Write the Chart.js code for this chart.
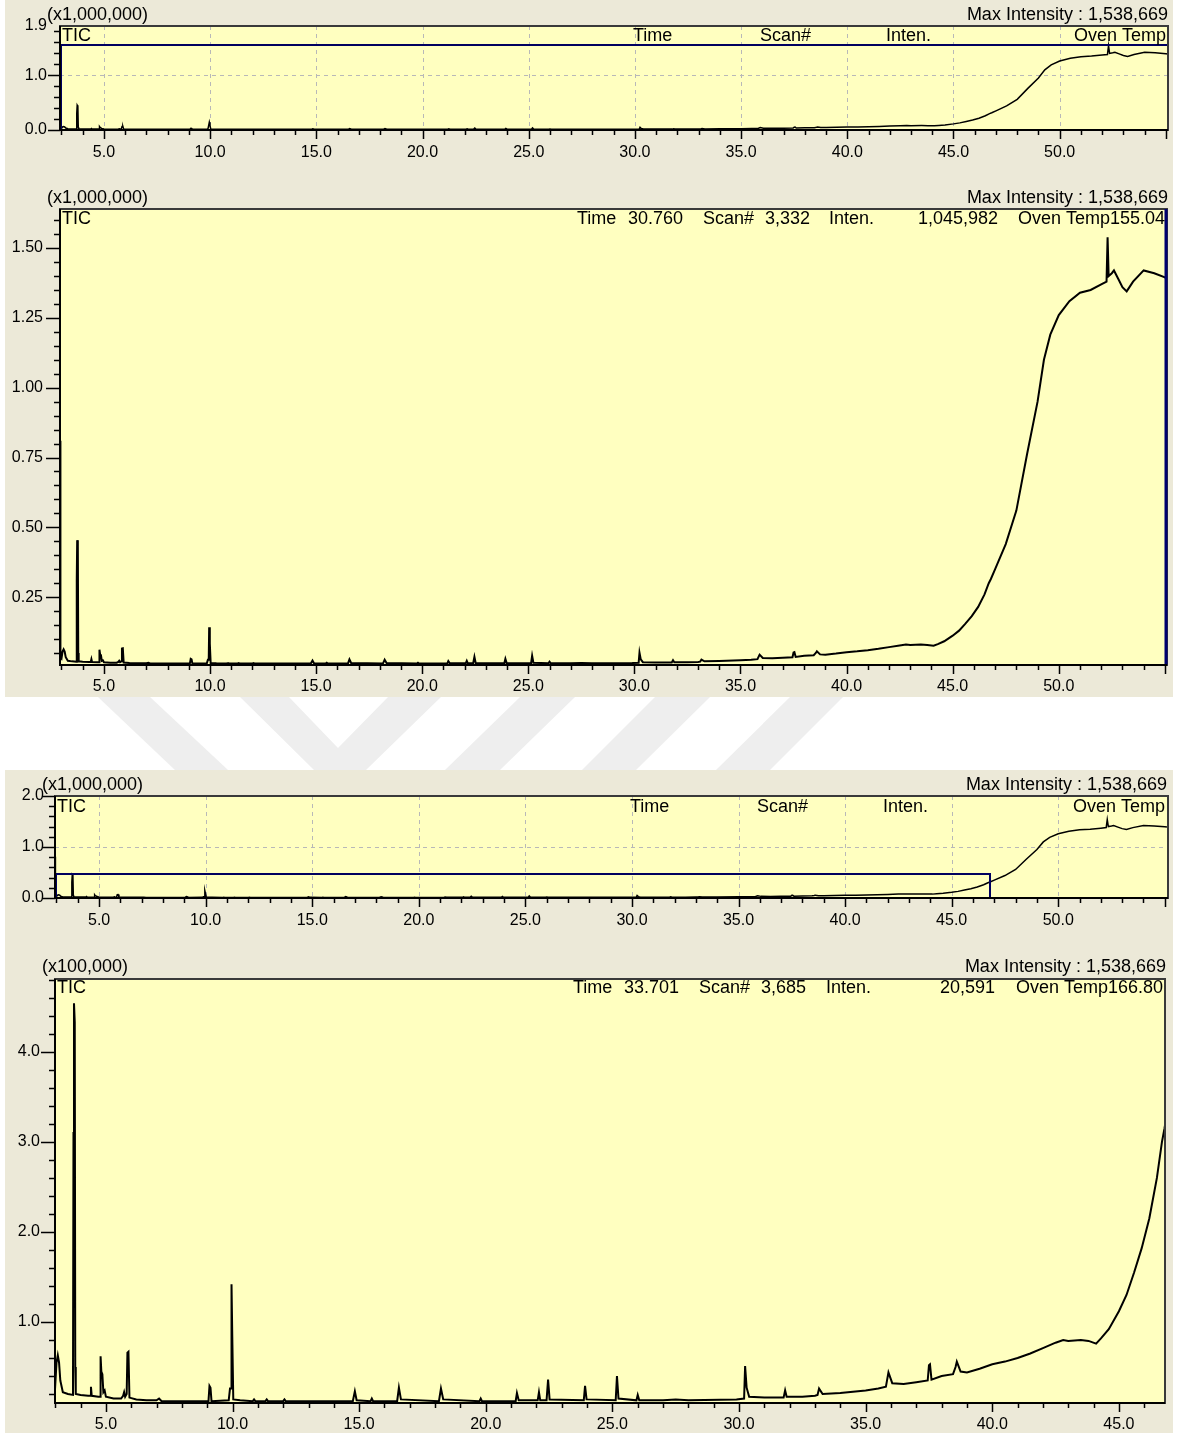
<!DOCTYPE html>
<html>
<head>
<meta charset="utf-8">
<script src="https://cdn.jsdelivr.net/npm/chart.js@4.4.1/dist/chart.umd.min.js"></script>
<style>
  html, body { margin: 0; padding: 0; background: #fff; }
  body { width: 1180px; height: 1433px; position: relative; overflow: hidden; }
  .panel { position: absolute; left: 5px; width: 1168px; background: #ECE9D8; }
  canvas { position: absolute; left: 5px; }
  #wm { position: absolute; left: 0; top: 0; }
</style>
</head>
<body>
<svg id="wm" width="1180" height="1433">
  <g fill="#EEEEEE">
    <polygon points="98,697 150,697 228,770 175,770"/>
    <polygon points="240,697 289,697 338,748 388,697 441,697 366,770 314,770"/>
    <polygon points="520,697 575,697 500,770 445,770"/>
    <polygon points="655,697 710,697 636,770 582,770"/>
    <polygon points="790,697 843,697 770,770 716,770"/>
  </g>
</svg>
<div class="panel" style="top:0;height:697px"></div>
<div class="panel" style="top:770px;height:663px"></div>
<canvas id="ov1" width="1168" height="165" style="top:0px"></canvas>
<canvas id="main1" width="1168" height="532" style="top:165px"></canvas>
<canvas id="ov2" width="1168" height="165" style="top:770px"></canvas>
<canvas id="main2" width="1168" height="498" style="top:935px"></canvas>
<script>
// retention time (min) and TIC intensity (x100,000 counts)
const rtMin = [
  2.93, 2.95, 3.00, 3.05, 3.10, 3.15, 3.20, 3.30, 3.50, 3.70, 3.72, 3.74, 3.77, 3.79, 3.81,
  4.00, 4.30, 4.38, 4.41, 4.44, 4.70, 4.77, 4.79, 4.82, 4.86, 4.90, 4.95, 5.00,
  5.30, 5.60, 5.68, 5.72, 5.76, 5.82, 5.85, 5.89, 5.93, 6.20, 6.60, 7.00, 7.10, 7.20, 8.00,
  9.05, 9.09, 9.13, 9.17, 9.85, 9.90, 9.94, 9.96, 9.99, 10.03, 10.30,
  10.80, 10.85, 10.90, 11.30, 11.35, 11.40, 12.00, 12.05, 12.10, 13.00,
  14.75, 14.83, 14.90, 15.45, 15.50, 15.55, 16.50, 16.57, 16.65, 18.15, 18.23, 18.32,
  19.75, 19.80, 19.85, 21.18, 21.23, 21.30, 22.05, 22.10, 22.15, 22.40, 22.46, 22.52,
  23.87, 23.92, 23.98, 25.13, 25.18, 25.24, 25.95, 26.00, 26.06,
  27.00, 27.50, 28.00, 29.90, 30.20, 30.24, 30.30, 30.40, 31.00, 31.76, 31.82, 31.88,
  32.50, 33.00, 33.10, 33.16, 33.30, 34.00, 35.00, 35.50, 35.80, 35.90, 36.05, 36.50,
  37.00, 37.45, 37.50, 37.54, 37.60, 38.00, 38.45, 38.55, 38.60, 38.75,
  39.00, 39.50, 40.00, 40.50, 41.00, 41.50, 42.00, 42.50, 42.80, 43.00, 43.50, 43.80,
  44.10, 44.30, 44.60, 45.00, 45.30, 45.60, 45.90, 46.20, 46.50, 46.70, 46.80,
  47.00, 47.50, 48.00, 48.50, 49.00, 49.30, 49.60, 50.00, 50.50, 51.00, 51.50, 52.00,
  52.25, 52.30, 52.35, 52.50, 52.60, 52.80, 53.00, 53.20, 53.50, 54.00, 54.50, 55.00, 55.10
];
const ticE5 = [
  8.10, 0.35, 0.30, 0.55, 0.63, 0.55, 0.35, 0.22, 0.20, 0.19, 3.10, 4.54, 4.33, 0.50, 0.20,
  0.19, 0.18, 0.18, 0.28, 0.18, 0.17, 0.17, 0.62, 0.45, 0.42, 0.22, 0.24, 0.17,
  0.15, 0.15, 0.18, 0.22, 0.17, 0.20, 0.66, 0.67, 0.16, 0.14, 0.13, 0.13, 0.15, 0.12, 0.12,
  0.12, 0.29, 0.27, 0.12, 0.13, 0.26, 0.26, 1.42, 0.84, 0.14, 0.13,
  0.12, 0.14, 0.12, 0.12, 0.14, 0.12, 0.12, 0.14, 0.12, 0.12,
  0.12, 0.23, 0.13, 0.12, 0.15, 0.12, 0.12, 0.27, 0.14, 0.12, 0.26, 0.14,
  0.12, 0.15, 0.12, 0.12, 0.21, 0.13, 0.13, 0.22, 0.13, 0.13, 0.36, 0.14,
  0.13, 0.29, 0.14, 0.13, 0.40, 0.15, 0.13, 0.19, 0.13,
  0.13, 0.14, 0.13, 0.14, 0.15, 0.51, 0.27, 0.17, 0.16, 0.16, 0.24, 0.17,
  0.17, 0.18, 0.19, 0.26, 0.20, 0.21, 0.24, 0.26, 0.28, 0.44, 0.32, 0.31,
  0.33, 0.35, 0.52, 0.53, 0.36, 0.40, 0.42, 0.50, 0.56, 0.45,
  0.44, 0.48, 0.53, 0.56, 0.60, 0.65, 0.71, 0.77, 0.80, 0.79, 0.80, 0.79,
  0.76, 0.82, 0.92, 1.12, 1.30, 1.55, 1.82, 2.15, 2.60, 3.00, 3.15,
  3.50, 4.40, 5.60, 7.60, 9.50, 11.00, 11.90, 12.60, 13.10, 13.40, 13.50, 13.70,
  13.80, 15.39, 14.00, 14.10, 14.20, 13.90, 13.60, 13.45, 13.80, 14.20, 14.10, 13.95, 13.90
];

const xTicksFull = [5, 10, 15, 20, 25, 30, 35, 40, 45, 50];
const xTicksZoom = [5, 10, 15, 20, 25, 30, 35, 40, 45];
const yTicksOv1 = [0, 1.0, 1.9];
const yTicksMain1 = [0.25, 0.50, 0.75, 1.00, 1.25, 1.50];
const yTicksOv2 = [0, 1.0, 2.0];
const yTicksMain2 = [1.0, 2.0, 3.0, 4.0];

// zoom windows marked on the overviews: [tStart, tEnd, low, high] (x1,000,000)
const zoomBox1 = [2.93, 55.1, 0, 1.56];
const zoomBox2 = [2.93, 46.82, 0, 0.47];

const maxIntensity = 'Max Intensity : 1,538,669';
const overviewHeader = ['Time', 'Scan#', 'Inten.', 'Oven Temp'];
const cursor1 = ['30.760', '3,332', '1,045,982', '155.04'];
const cursor2 = ['33.701', '3,685', '20,591', '166.80'];

const FONT = '"Liberation Sans", Arial, sans-serif';

const gcPlugin = {
  id: 'gc',
  beforeDraw(chart, args, o) {
    const { ctx, chartArea: a, scales: { x, y } } = chart;
    ctx.save();
    ctx.fillStyle = '#FFFFC0';
    ctx.fillRect(a.left, a.top, a.right - a.left, a.bottom - a.top);
    if (o.gridX) {
      ctx.strokeStyle = '#B8B8B8';
      ctx.lineWidth = 1;
      ctx.setLineDash([4, 4]);
      ctx.beginPath();
      o.gridX.forEach(v => {
        const px = Math.round(x.getPixelForValue(v)) + 0.5;
        ctx.moveTo(px, a.top); ctx.lineTo(px, a.bottom);
      });
      o.gridY.forEach(v => {
        const py = Math.round(y.getPixelForValue(v)) + 0.5;
        ctx.moveTo(a.left, py); ctx.lineTo(a.right, py);
      });
      ctx.stroke();
    }
    ctx.restore();
  },
  afterDraw(chart, args, o) {
    const { ctx, chartArea: a, scales: { x, y } } = chart;
    ctx.save();
    // zoom box
    if (o.box) {
      const [t0, t1, v0, v1] = o.box;
      const x0 = x.getPixelForValue(t0), x1 = x.getPixelForValue(t1);
      const y0 = y.getPixelForValue(v0), y1 = y.getPixelForValue(v1);
      ctx.strokeStyle = '#000060';
      ctx.lineWidth = 2;
      ctx.strokeRect(Math.round(x0) + 1, Math.round(y1), Math.round(x1 - x0) - 1, Math.round(y0 - y1));
    }
    // frame
    ctx.strokeStyle = '#3A3A3A';
    ctx.lineWidth = 2;
    ctx.strokeRect(a.left, a.top, a.right - a.left, a.bottom - a.top);
    if (o.rightColor) {
      ctx.strokeStyle = o.rightColor;
      ctx.lineWidth = 3;
      ctx.beginPath(); ctx.moveTo(a.right - 1, a.top); ctx.lineTo(a.right - 1, a.bottom); ctx.stroke();
    }
    ctx.strokeStyle = '#000';
    ctx.lineWidth = 2;
    ctx.beginPath();
    ctx.moveTo(a.left, a.top); ctx.lineTo(a.left, a.bottom); ctx.lineTo(a.right, a.bottom);
    ctx.stroke();
    // tick marks
    ctx.lineWidth = 1.5;
    ctx.beginPath();
    for (let k = Math.ceil(x.min / o.xMinor - 1e-6); k * o.xMinor <= x.max + 1e-6; k++) {
      const px = Math.round(x.getPixelForValue(k * o.xMinor)) + 0.5;
      const len = k % 5 === 0 ? 9 : 5;
      ctx.moveTo(px, a.bottom); ctx.lineTo(px, a.bottom + len);
    }
    for (let k = Math.ceil(y.min / o.yMinor - 1e-6); k * o.yMinor <= y.max + 1e-6; k++) {
      const py = Math.round(y.getPixelForValue(k * o.yMinor)) + 0.5;
      const len = k % 5 === 0 ? o.yMajorLen : 6;
      ctx.moveTo(a.left - len, py); ctx.lineTo(a.left, py);
    }
    ctx.stroke();
    // texts
    ctx.fillStyle = '#000';
    ctx.font = '18px ' + FONT;
    ctx.textBaseline = 'alphabetic';
    o.texts.forEach(t => {
      ctx.textAlign = t.align || 'left';
      ctx.fillText(t.s, t.x - 5, t.y - o.top);
    });
    ctx.restore();
  }
};

function pts(div) {
  return rtMin.map((t, i) => ({ x: t, y: ticE5[i] / div }));
}

function makeChart(id, c) {
  return new Chart(document.getElementById(id), {
    type: 'line',
    data: {
      datasets: [{
        data: pts(c.div),
        borderColor: '#000',
        borderWidth: c.lw,
        pointRadius: 0,
        tension: 0,
        fill: false
      }]
    },
    options: {
      responsive: false,
      animation: false,
      events: [],
      layout: { padding: { top: c.padTop, right: c.padRight, left: 0, bottom: 0 } },
      plugins: {
        legend: { display: false },
        tooltip: { enabled: false },
        gc: {
          top: c.top, xMinor: 1, yMinor: c.yMinor, yMajorLen: c.yMajorLen,
          gridX: c.grid ? c.xTicks : null, gridY: c.grid ? [1.0] : null,
          box: c.box, rightColor: c.rightColor, texts: c.texts
        }
      },
      scales: {
        x: {
          type: 'linear', min: c.xMin, max: c.xMax,
          grid: { display: false, drawTicks: false }, border: { display: false },
          afterBuildTicks: s => { s.ticks = c.xTicks.map(v => ({ value: v })); },
          afterFit: s => { s.height = c.axisH; },
          ticks: { padding: c.xPad, color: '#000', font: { family: FONT, size: 16 }, maxRotation: 0,
                   callback: v => v.toFixed(1) }
        },
        y: {
          type: 'linear', min: c.yMin, max: c.yMax,
          grid: { display: false, drawTicks: false }, border: { display: false },
          afterBuildTicks: s => { s.ticks = c.yTicks.map(v => ({ value: v })); },
          afterFit: s => { s.width = c.axisW; },
          ticks: { padding: c.yPad, color: '#000', font: { family: FONT, size: 16 },
                   callback: v => v.toFixed(c.yDec) }
        }
      }
    },
    plugins: [gcPlugin]
  });
}

function headerOv(y, xs, right) {
  return [
    { s: 'TIC', x: xs[0], y },
    { s: overviewHeader[0], x: xs[1], y },
    { s: overviewHeader[1], x: xs[2], y },
    { s: overviewHeader[2], x: xs[3], y },
    { s: overviewHeader[3], x: right, y, align: 'right' }
  ];
}
function headerMain(y, xs, cur) {
  return [
    { s: 'TIC', x: xs[0], y },
    { s: 'Time', x: xs[1], y },
    { s: cur[0], x: xs[2], y },
    { s: 'Scan#', x: xs[3], y },
    { s: cur[1], x: xs[4], y },
    { s: 'Inten.', x: xs[5], y },
    { s: cur[2], x: xs[6], y, align: 'right' },
    { s: 'Oven Temp' + cur[3], x: xs[7], y, align: 'right' }
  ];
}

makeChart('ov1', {
  top: 0, div: 10, lw: 1.5, xMin: 2.93, xMax: 55.1, yMin: 0, yMax: 1.9,
  xTicks: xTicksFull, yTicks: yTicksOv1, yDec: 1, yMinor: 0.2, yMajorLen: 12,
  padTop: 26, padRight: 5, axisW: 55, axisH: 35, xPad: 13, yPad: 13,
  grid: true, box: zoomBox1,
  texts: [
    { s: '(x1,000,000)', x: 47, y: 20 },
    { s: maxIntensity, x: 1168, y: 20, align: 'right' }
  ].concat(headerOv(41, [62, 633, 760, 886], 1166))
});

makeChart('main1', {
  top: 165, div: 10, lw: 2, xMin: 2.93, xMax: 55.1, yMin: 0.007, yMax: 1.64,
  xTicks: xTicksFull, yTicks: yTicksMain1, yDec: 2, yMinor: 0.05, yMajorLen: 14,
  padTop: 44, padRight: 6, axisW: 55, axisH: 32, xPad: 12, yPad: 17,
  grid: false, rightColor: '#000070',
  texts: [
    { s: '(x1,000,000)', x: 47, y: 203 },
    { s: maxIntensity, x: 1168, y: 203, align: 'right' }
  ].concat(headerMain(224, [62, 577, 628, 703, 765, 829, 998, 1165], cursor1))
});

makeChart('ov2', {
  top: 770, div: 10, lw: 1.5, xMin: 2.93, xMax: 55.15, yMin: 0, yMax: 2.0,
  xTicks: xTicksFull, yTicks: yTicksOv2, yDec: 1, yMinor: 0.2, yMajorLen: 12,
  padTop: 26, padRight: 5, axisW: 50, axisH: 37, xPad: 13, yPad: 11,
  grid: true, box: zoomBox2,
  texts: [
    { s: '(x1,000,000)', x: 42, y: 790 },
    { s: maxIntensity, x: 1167, y: 790, align: 'right' }
  ].concat(headerOv(812, [57, 630, 757, 883], 1165))
});

makeChart('main2', {
  top: 935, div: 1, lw: 2, xMin: 2.99, xMax: 46.82, yMin: 0.1, yMax: 4.81,
  xTicks: xTicksZoom, yTicks: yTicksMain2, yDec: 1, yMinor: 0.2, yMajorLen: 14,
  padTop: 44, padRight: 8, axisW: 50, axisH: 30, xPad: 12, yPad: 15,
  grid: false,
  texts: [
    { s: '(x100,000)', x: 42, y: 972 },
    { s: maxIntensity, x: 1166, y: 972, align: 'right' }
  ].concat(headerMain(993, [57, 573, 624, 699, 761, 826, 995, 1163], cursor2))
});
</script>
</body>
</html>
